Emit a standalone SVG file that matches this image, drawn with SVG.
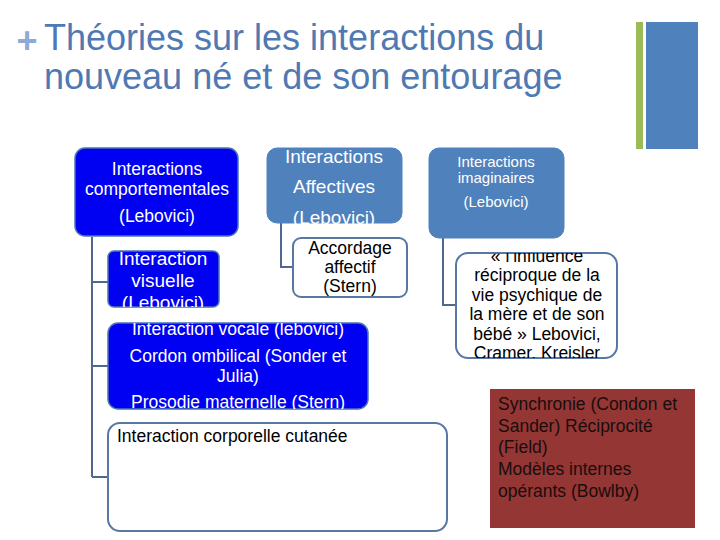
<svg xmlns="http://www.w3.org/2000/svg" width="720" height="540" viewBox="0 0 720 540">
<defs>
<style>
text{font-family:"Liberation Sans",Arial,sans-serif;}
.title{font-size:36px;fill:#4f79b2;}
.w{fill:#ffffff;text-anchor:middle;}
.k{fill:#000000;text-anchor:middle;}
.blue{fill:#0000f2;stroke:#4a76b0;stroke-width:1.5;}
.steel{fill:#4f81bd;stroke:#4f81bd;stroke-width:1;}
.white{fill:#ffffff;stroke:#5878a3;stroke-width:2;}
.conn{fill:none;stroke:#4d6a8e;stroke-width:2;}
</style>
<clipPath id="cVis"><rect x="108" y="251" width="111" height="56" rx="6"/></clipPath>
<clipPath id="cVoc"><rect x="108" y="323" width="260" height="86" rx="10"/></clipPath>
<clipPath id="cInf"><rect x="456" y="253" width="161" height="105" rx="12"/></clipPath>
</defs>
<rect width="720" height="540" fill="#ffffff"/>

<g id="title">
<text x="16.5" y="52.5" style="font-size:36px;font-weight:bold;fill:#8eaad6;">+</text>
<text class="title" x="44" y="50">Théories sur les interactions du</text>
<text class="title" x="44" y="89">nouveau né et de son entourage</text>
</g>
<g id="deco">
<rect x="636" y="22" width="7" height="127" fill="#9bbb59"/>
<rect x="646" y="22" width="52" height="127" fill="#4f81bd"/>
</g>

<g id="connectors">
<path class="conn" d="M92,237 V477 M92,282 H108 M92,366 H108 M92,477 H108"/>
<path class="conn" d="M281,223 V267 H293"/>
<path class="conn" d="M443,238 V305 H456"/>
</g>

<g id="n-comport">
<rect class="blue" x="75" y="148" width="163" height="88" rx="10"/>
<text class="w" x="157" y="175" font-size="17.5">Interactions</text>
<text class="w" x="157" y="195" font-size="17.5">comportementales</text>
<text class="w" x="157" y="222" font-size="17.5">(Lebovici)</text>
</g>

<g id="n-affect">
<rect class="steel" x="267" y="148" width="135" height="75" rx="10"/>
<text class="w" x="334" y="163" font-size="19">Interactions</text>
<text class="w" x="334" y="193" font-size="19">Affectives</text>
<text class="w" x="334" y="224" font-size="19">(Lebovici)</text>
</g>

<g id="n-imag">
<rect class="steel" x="429" y="148" width="135" height="90" rx="10"/>
<text class="w" x="496" y="167" font-size="15">Interactions</text>
<text class="w" x="496" y="183" font-size="15">imaginaires</text>
<text class="w" x="496" y="207" font-size="15">(Lebovici)</text>
</g>

<g id="n-visuelle">
<rect class="blue" x="108" y="251" width="111" height="56" rx="6"/>
<g clip-path="url(#cVis)">
<text class="w" x="163" y="265" font-size="19">Interaction</text>
<text class="w" x="163" y="287" font-size="19">visuelle</text>
<text class="w" x="163" y="309" font-size="19">(Lebovici)</text>
</g>
</g>

<g id="n-accordage">
<rect class="white" x="293" y="238" width="114" height="59" rx="8"/>
<text class="k" x="350" y="254" font-size="17.5">Accordage</text>
<text class="k" x="350" y="273" font-size="17.5">affectif</text>
<text class="k" x="350" y="292" font-size="17.5">(Stern)</text>
</g>

<g id="n-vocale">
<rect class="blue" x="108" y="323" width="260" height="86" rx="10"/>
<g clip-path="url(#cVoc)">
<text class="w" x="238" y="335" font-size="17.5">Interaction vocale (lebovici)</text>
<text class="w" x="238" y="362" font-size="17.5">Cordon ombilical (Sonder et</text>
<text class="w" x="238" y="382" font-size="17.5">Julia)</text>
<text class="w" x="238" y="408" font-size="17.5">Prosodie maternelle (Stern)</text>
</g>
</g>

<g id="n-cutanee">
<rect class="white" x="108" y="423" width="339" height="108" rx="12"/>
<text x="117" y="442" font-size="17.5" fill="#000000">Interaction corporelle cutanée</text>
</g>

<g id="n-influence">
<rect class="white" x="456" y="253" width="161" height="105" rx="12"/>
<g clip-path="url(#cInf)">
<text class="k" x="537" y="262" font-size="17.5">« l’influence</text>
<text class="k" x="537" y="281" font-size="17.5">réciproque de la</text>
<text class="k" x="537" y="301" font-size="17.5">vie psychique de</text>
<text class="k" x="537" y="320" font-size="17.5">la mère et de son</text>
<text class="k" x="537" y="340" font-size="17.5">bébé » Lebovici,</text>
<text class="k" x="537" y="359" font-size="17.5">Cramer,  Kreisler</text>
</g>
</g>

<g id="n-synchronie">
<rect x="490" y="389" width="205" height="139" fill="#943634"/>
<text x="498" y="410" font-size="17.5" fill="#1a0d0d">Synchronie (Condon et</text>
<text x="498" y="432" font-size="17.5" fill="#1a0d0d">Sander) Réciprocité</text>
<text x="498" y="453" font-size="17.5" fill="#1a0d0d">(Field)</text>
<text x="498" y="475" font-size="17.5" fill="#1a0d0d">Modèles internes</text>
<text x="498" y="497" font-size="17.5" fill="#1a0d0d">opérants (Bowlby)</text>
</g>
</svg>
